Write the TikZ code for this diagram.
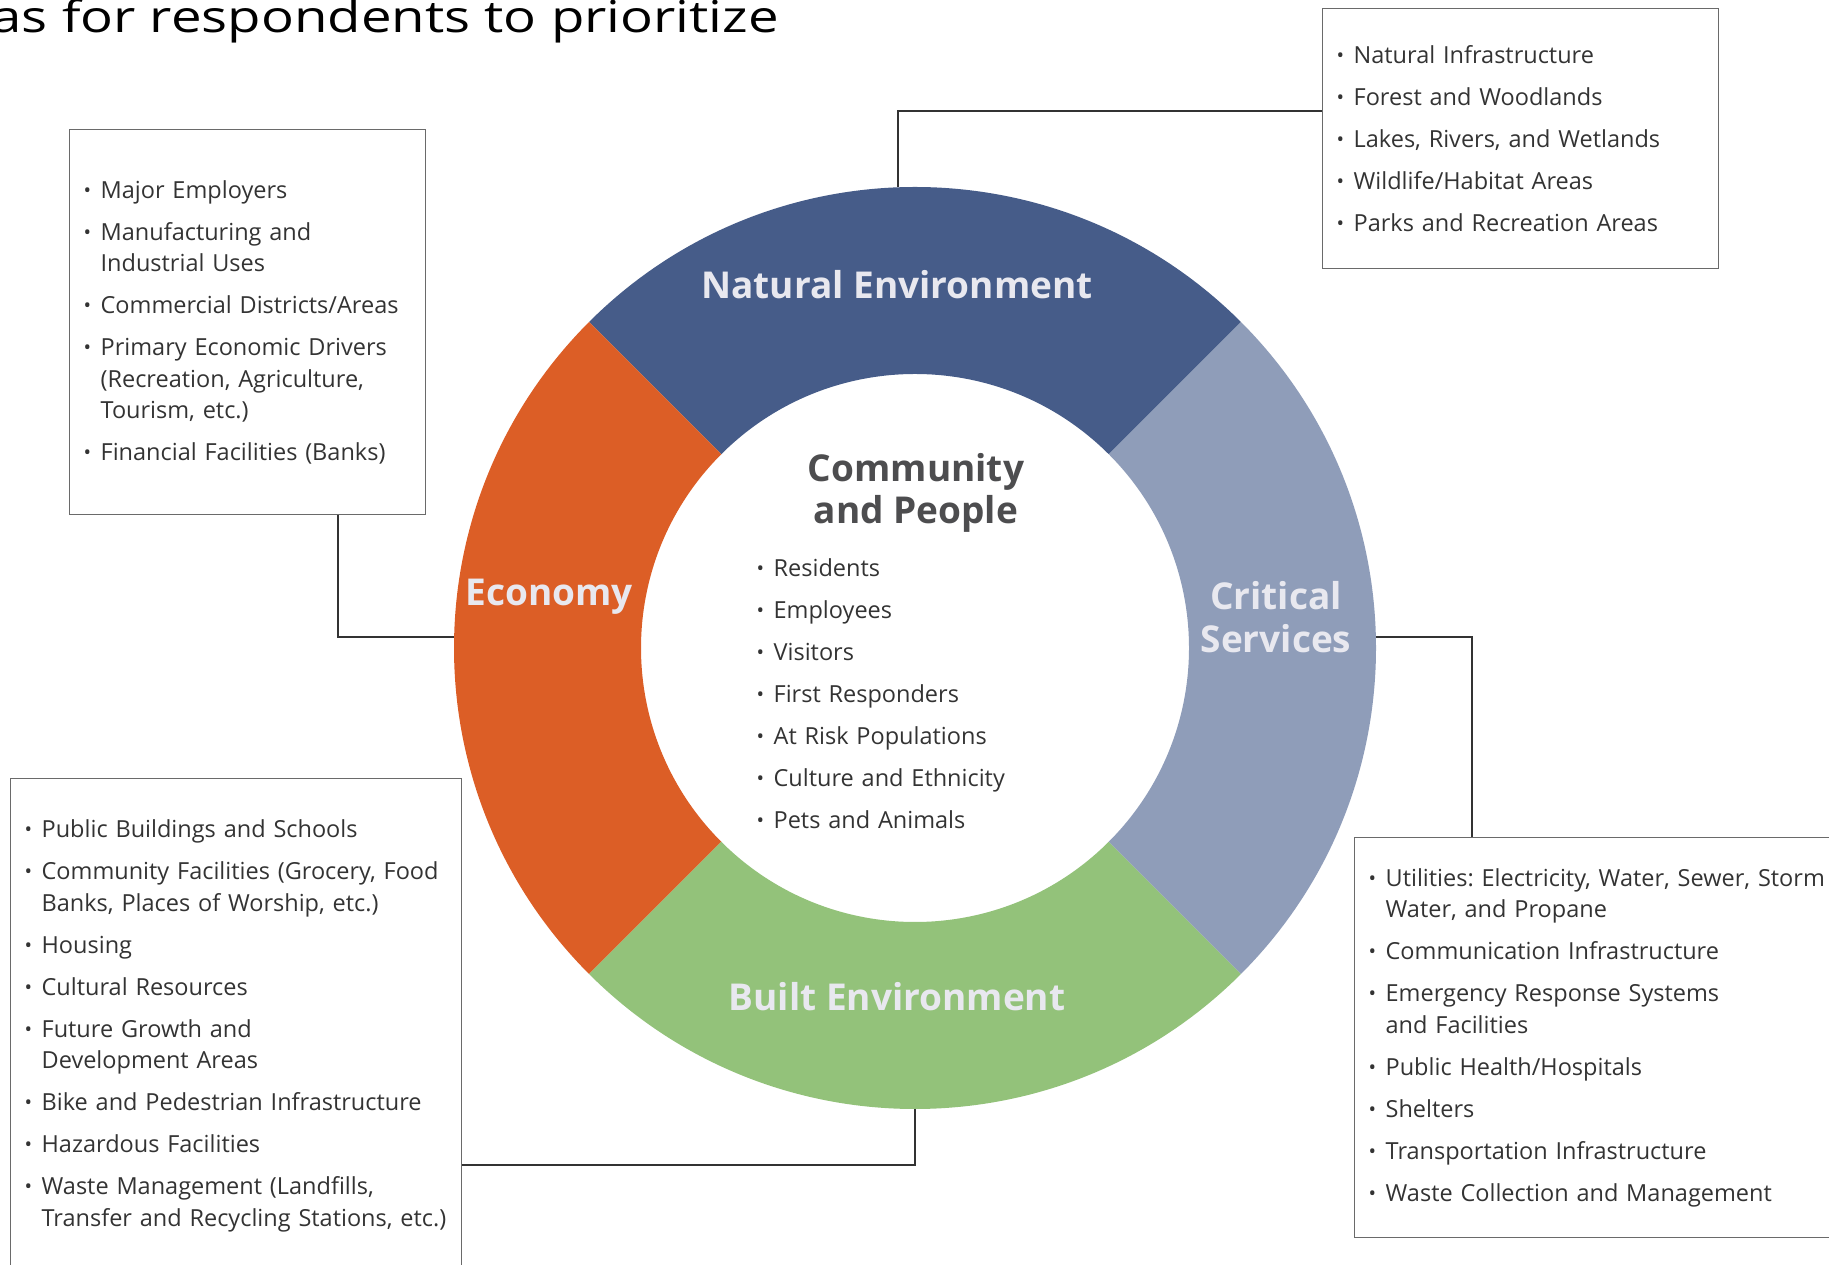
\documentclass[tikz,border=0pt]{standalone}
\usepackage{fontspec}
\setmainfont{Open Sans}
\definecolor{natblue}{HTML}{465C89}
\definecolor{ecoorange}{HTML}{DC5E26}
\definecolor{crtgrey}{HTML}{8F9DB9}
\definecolor{bltgreen}{HTML}{93C27A}
\definecolor{labelgrey}{HTML}{E8E8EF}
\definecolor{headgrey}{HTML}{4D4D4F}
\definecolor{textgrey}{HTML}{333333}
\definecolor{boxgrey}{HTML}{6A6A6A}
\newcommand\li[1]{\par\hangindent=17pt\hangafter=1\noindent
    \hbox to 17pt{\raisebox{1pt}{\fontsize{20}{20}\selectfont\textbullet}\hfil}#1\par}

\begin{document}
\begin{tikzpicture}[x=1pt, y=1pt,
    box/.style={draw=boxgrey, line width=1.3pt, anchor=north west, inner xsep=14pt, inner ysep=0pt,
        text=textgrey, font=\fontsize{23.5}{31.5}\selectfont,
        execute at begin node={\frenchspacing\raggedright\rightskip=-20pt plus 1fil
            \setlength\parskip{10.5pt}\vspace*{-24pt}}},
    seg/.style={font=\bfseries\fontsize{37}{42.5}\selectfont, text=labelgrey, align=center},
    link/.style={draw=textgrey, line width=1.3pt}]
    \useasboundingbox (0,0) rectangle (1829,1264);

    % ring
    \coordinate (ctr) at (915,616);
    \foreach \a/\c in {45/natblue, 135/ecoorange, 225/bltgreen, 315/crtgrey}
        \fill[\c] (ctr) ++(\a:461) arc[start angle=\a, delta angle=90, radius=461pt]
            -- ++(\a+270:187) arc[start angle=\a+90, delta angle=-90, radius=274pt] -- cycle;
    \coordinate (natpin) at (898,1077);
    \coordinate (ecopin) at (454,627);
    \coordinate (crtpin) at (1376,627);
    \coordinate (bltpin) at (915,155);

    \node[anchor=base east, inner sep=0pt, font=\fontsize{44}{44}\selectfont] (title) at (779,1231)
        {\scalebox{1.24}[1]{as for respondents to prioritize}};

    \node[seg] (natlbl) at (897,979) {Natural Environment};
    \node[seg] (ecolbl) at (549,667) {Economy};
    \node[seg] (crtlbl) at (1276,647) {Critical\\Services};
    \node[seg] (bltlbl) at (897,267) {Built Environment};
    \node[seg, text=headgrey] (commlbl) at (916,771) {Community\\and People};

    \node[box, draw=none, inner xsep=0pt, anchor=west, text width=260pt] (people) at (756,570)
        {\li{Residents}\li{Employees}\li{Visitors}\li{First Responders}
         \li{At Risk Populations}\li{Culture and Ethnicity}\li{Pets and Animals}};

    % lists
    \node[box, text width=368pt, minimum height=260pt] (natbox) at (1322,1256)
        {\li{Natural Infrastructure}\li{Forest and Woodlands}\li{Lakes, Rivers, and Wetlands}
         \li{Wildlife/Habitat Areas}\li{Parks and Recreation Areas}};
    \node[box, text width=328pt, minimum height=385pt] (ecobox) at (69,1135)
        {\li{Major Employers}\li{Manufacturing and\newline Industrial Uses}\li{Commercial Districts/Areas}
         \li{Primary Economic Drivers\newline (Recreation, Agriculture,\newline Tourism, etc.)}
         \li{Financial Facilities (Banks)}};
    \node[box, text width=423pt, minimum height=494pt] (bltbox) at (10,486)
        {\li{Public Buildings and Schools}\li{Community Facilities (Grocery, Food\newline Banks, Places of Worship, etc.)}
         \li{Housing}\li{Cultural Resources}\li{Future Growth and\newline Development Areas}
         \li{Bike and Pedestrian Infrastructure}\li{Hazardous Facilities}
         \li{Waste Management (Landfills,\newline Transfer and Recycling Stations, etc.)}};
    \node[box, text width=492pt, minimum height=400pt] (crtbox) at (1354,427)
        {\li{Utilities: Electricity, Water, Sewer, Storm\newline Water, and Propane}
         \li{Communication Infrastructure}\li{Emergency Response Systems\newline and Facilities}
         \li{Public Health/Hospitals}\li{Shelters}\li{Transportation Infrastructure}
         \li{Waste Collection and Management}};

    \draw[link] (natpin) |- ([yshift=-103pt]natbox.north west);
    \draw[link] ([xshift=269pt]ecobox.south west) |- (ecopin);
    \draw[link] (crtpin) -| ([xshift=118pt]crtbox.north west);
    \draw[link] (bltpin) |- ([yshift=-387pt]bltbox.north east);
\end{tikzpicture}
\end{document}
